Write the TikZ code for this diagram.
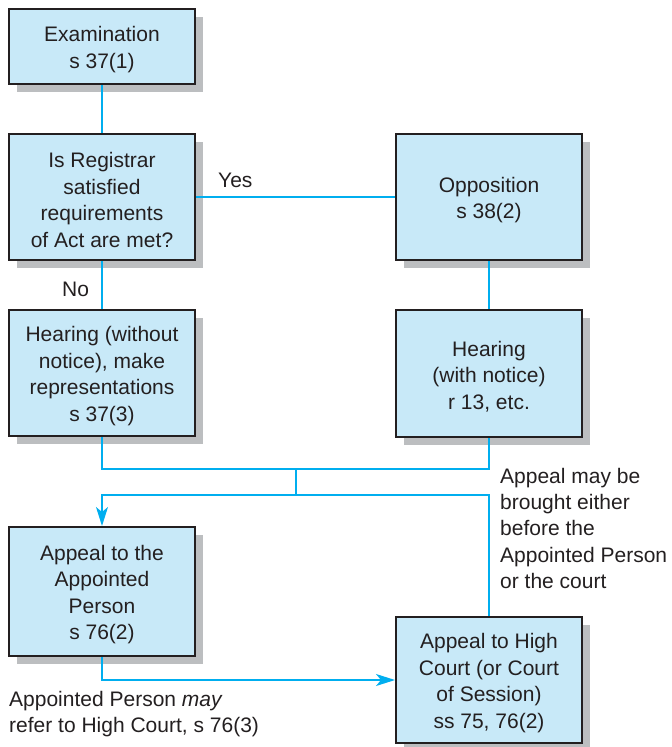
\documentclass[tikz,border=0pt]{standalone}
\usepackage{fontspec}
\setmainfont{Liberation Sans}
\usetikzlibrary{arrows.meta,shadows}
\definecolor{boxfill}{HTML}{C8E9F8}
\definecolor{linec}{HTML}{00AEEF}
\definecolor{shadowc}{HTML}{BCBEC0}
\definecolor{txt}{HTML}{231F20}
\newcommand\topstrut{\rule{0pt}{21pt}}
\begin{document}
\begin{tikzpicture}[x=1pt,y=-1pt,
  box/.style={draw=txt, line width=2pt, fill=boxfill, minimum width=186pt,
    align=center, text=txt, inner sep=0pt,
    font=\fontsize{21}{26.5}\selectfont,
    drop shadow={shadow xshift=8pt, shadow yshift=-8pt, fill=shadowc, opacity=1}},
  conn/.style={draw=linec, line width=1.5pt},
  tip/.style={-{Stealth[length=19pt,width=12pt,inset=5pt]}},
  lbl/.style={text=txt, inner sep=0pt, align=left, font=\fontsize{21}{26.3}\selectfont}]
\useasboundingbox (0,0) rectangle (672,747);
\node[box, minimum height=75pt] (exam) at (102,46.5) {\topstrut Examination\\s 37(1)};
\node[box, minimum height=126pt] (reg) at (102,197) {\topstrut Is Registrar\\satisfied\\requirements\\of Act are met?};
\node[box, minimum height=126pt] (opp) at (489,197) {\topstrut Opposition\\s 38(2)};
\node[box, minimum height=126pt] (hwo) at (102,373) {\topstrut Hearing (without\\notice), make\\representations\\s 37(3)};
\node[box, minimum height=127pt] (hw) at (489,373.5) {\topstrut Hearing\\(with notice)\\r 13, etc.};
\node[box, minimum height=129pt] (app) at (102,591.5) {\topstrut Appeal to the\\Appointed\\Person\\s 76(2)};
\node[box, minimum height=126pt] (hc) at (489,680) {\topstrut Appeal to High\\Court (or Court\\of Session)\\ss 75, 76(2)};
\coordinate (j1) at (296,469);
\coordinate (j2) at (296,495);
\draw[conn] (exam) -- (reg);
\draw[conn] (reg) -- (opp);
\draw[conn] (reg) -- (hwo);
\draw[conn] (opp) -- (hw);
\draw[conn] (hwo.south) |- (j1) -| (hw.south);
\draw[conn] (j1) -- (j2);
\draw[conn, tip] (j2) -| (app.north);
\draw[conn] (j2) -| (hc.north);
\draw[conn, tip] (app.south) |- (hc.west);
\node[lbl, anchor=base west] (yes) at (218,187) {Yes};
\node[lbl, anchor=base west] (no) at (62,296) {No};
\node[lbl, anchor=north west] (note1) at (500,467.7) {Appeal may be\\brought either\\before the\\Appointed Person\\or the court};
\node[lbl, anchor=north west] (note2) at (9,690.7) {Appointed Person \textit{may}\\refer to High Court, s 76(3)};
\end{tikzpicture}
\end{document}
